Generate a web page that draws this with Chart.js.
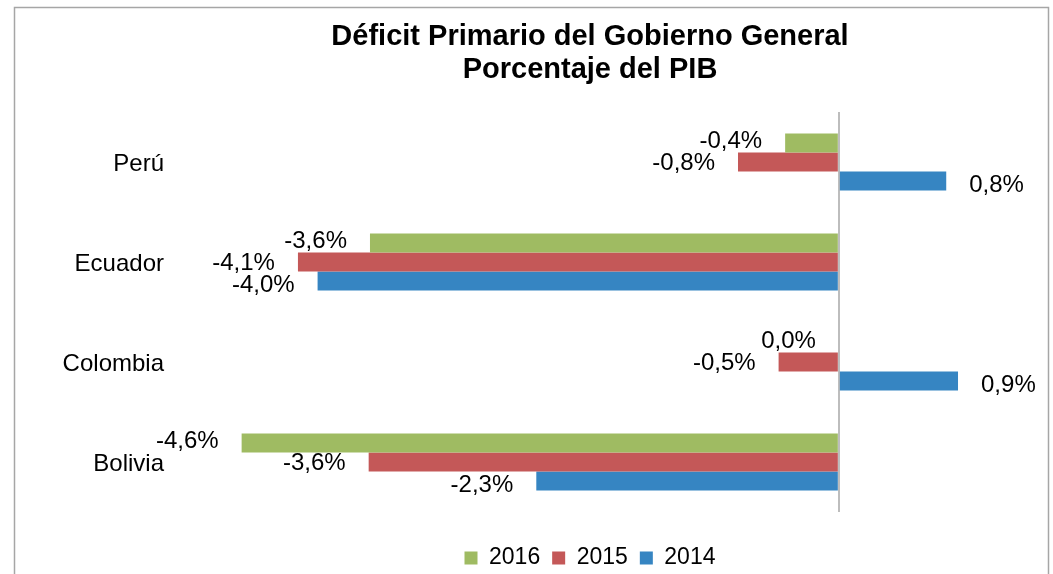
<!DOCTYPE html>
<html>
<head>
<meta charset="utf-8">
<script src="https://cdn.jsdelivr.net/npm/chart.js@4.4.0/dist/chart.umd.min.js"></script>
<style>
  html, body { margin: 0; padding: 0; background: #fff; overflow: hidden; }
  #wrap { width: 1053px; height: 574px; position: relative; }
</style>
</head>
<body>
<div id="wrap"><canvas id="deficitChart"></canvas></div>
<script>
  const categories = ['Perú', 'Ecuador', 'Colombia', 'Bolivia'];
  const years = ['2016', '2015', '2014'];
  const values2016 = [-0.41, -3.58, 0.0, -4.56];
  const values2015 = [-0.77, -4.13, -0.46, -3.59];
  const values2014 = [0.82, -3.98, 0.91, -2.31];
  const colors = ['#9fbb62', '#c45858', '#3685c2'];
  const titleLines = ['Déficit Primario del Gobierno General', 'Porcentaje del PIB'];

  Chart.defaults.font.family = '"Liberation Sans", Arial, sans-serif';
  Chart.defaults.color = '#000';

  // grey frame round the whole chart
  const framePlugin = {
    id: 'frame',
    beforeDraw(chart) {
      const ctx = chart.ctx;
      ctx.save();
      ctx.strokeStyle = '#a6a6a6';
      ctx.lineWidth = 1.5;
      ctx.strokeRect(14.5, 7.5, 1034, 620);
      ctx.restore();
    }
  };

  // value labels next to the bar ends
  const valueLabels = {
    id: 'valueLabels',
    afterDatasetsDraw(chart) {
      const ctx = chart.ctx;
      ctx.save();
      ctx.font = '24px "Liberation Sans", Arial, sans-serif';
      ctx.fillStyle = '#000';
      ctx.textBaseline = 'middle';
      chart.data.datasets.forEach((ds, i) => {
        chart.getDatasetMeta(i).data.forEach((bar, j) => {
          const v = ds.data[j];
          const txt = v.toFixed(1).replace('.', ',') + '%';
          const dy = i === 2 ? 4 : (i === 0 ? -2 : 1);
          if (v > 0) {
            ctx.textAlign = 'left';
            ctx.fillText(txt, bar.x + 23, bar.y + dy);
          } else {
            ctx.textAlign = 'right';
            ctx.fillText(txt, bar.x - 23, bar.y + dy);
          }
        });
      });
      ctx.restore();
    }
  };

  const el = document.getElementById('deficitChart');
  const deficitChart = new Chart(el, {
    type: 'bar',
    data: {
      labels: categories,
      datasets: [{
        label: years[0],
        data: values2016,
        backgroundColor: colors[0]
      }, {
        label: years[1],
        data: values2015,
        backgroundColor: colors[1]
      }, {
        label: years[2],
        data: values2014,
        backgroundColor: colors[2]
      }]
    },
    options: {
      indexAxis: 'y',
      responsive: true,
      maintainAspectRatio: false,
      animation: false,
      layout: { padding: { left: 0, right: 57, top: 0, bottom: -5.5 } },
      datasets: { bar: { categoryPercentage: 0.57, barPercentage: 1.0 } },
      scales: {
        x: {
          min: -5,
          max: 1.2,
          ticks: { display: false, stepSize: 1 },
          border: { display: false },
          grid: {
            drawTicks: false,
            lineWidth: 2,
            color: c => (c.tick && c.tick.value === 0) ? '#bdbdbd' : 'rgba(0,0,0,0)'
          },
          afterFit: s => { s.height = 22.5; }
        },
        y: {
          border: { display: false },
          grid: { display: false, drawTicks: false },
          ticks: { padding: 20, labelOffset: 2, font: { size: 24 }, color: '#000' },
          afterFit: s => { s.width = 184; }
        }
      },
      plugins: {
        title: {
          display: true,
          text: titleLines,
          fullSize: false,
          color: '#000',
          font: { size: 29, weight: 'bold', lineHeight: 1.16 },
          padding: { top: 20, bottom: 24.7 }
        },
        legend: {
          position: 'bottom',
          fullSize: false,
          labels: {
            boxWidth: 13,
            boxHeight: 13,
            padding: 12,
            color: '#000',
            font: { size: 23 }
          }
        },
        tooltip: { enabled: false }
      }
    },
    plugins: [framePlugin, valueLabels]
  });
</script>
</body>
</html>
